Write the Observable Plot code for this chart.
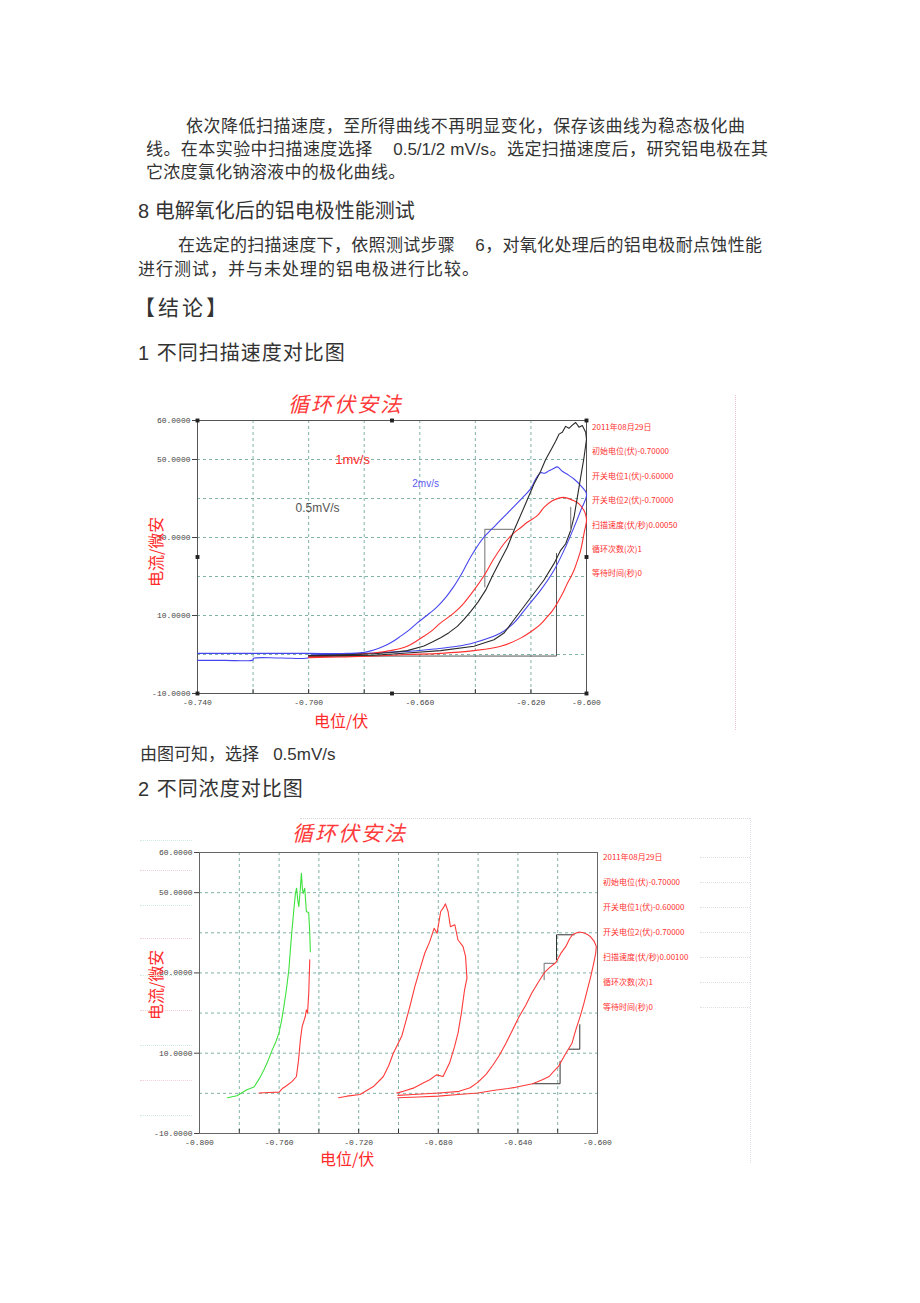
<!DOCTYPE html>
<html><head><meta charset="utf-8">
<script src="https://cdn.jsdelivr.net/npm/d3@7"></script>
<script src="https://cdn.jsdelivr.net/npm/@observablehq/plot@0.6"></script>
<style>
html,body{margin:0;padding:0;background:#fff;}
#page{position:relative;width:920px;height:1303px;overflow:hidden;font-family:"Liberation Sans","Noto Sans CJK SC",sans-serif;color:#333;}
.t{position:absolute;white-space:nowrap;line-height:1;font-size:17px;}
.j{text-align:justify;text-align-last:justify;}
.h{font-size:20px;}
.info{position:absolute;font-size:8px;color:#ff3030;font-family:"Noto Sans CJK SC",sans-serif;white-space:nowrap;line-height:1;}
.title{position:absolute;font-size:21px;letter-spacing:2px;color:#ff3a3a;font-style:italic;font-family:"Noto Sans CJK SC",sans-serif;white-space:nowrap;line-height:1;}
.lab{position:absolute;font-size:16px;color:#ff2b2b;font-family:"Noto Sans CJK SC",sans-serif;white-space:nowrap;line-height:1;}
.chart{position:absolute;}
.dot{position:absolute;}
</style></head>
<body><div id="page"></div>
<script>
// ---------- text of the page ----------
const paraLines = [
  "依次降低扫描速度，至所得曲线不再明显变化，保存该曲线为稳态极化曲",
  "线。在本实验中扫描速度选择 \u00a0\u00a0 0.5/1/2 mV/s。选定扫描速度后，研究铝电极在其",
  "它浓度氯化钠溶液中的极化曲线。"
];
const heading8 = "8 电解氧化后的铝电极性能测试";
const para2Lines = [
  "在选定的扫描速度下，依照测试步骤 \u00a0\u00a0 6，对氧化处理后的铝电极耐点蚀性能",
  "进行测试，并与未处理的铝电极进行比较。"
];
const conclusion = "【结论】";
const sec1 = "1 不同扫描速度对比图";
const note1 = "由图可知，选择 \u00a0 0.5mV/s";
const sec2 = "2 不同浓度对比图";
const chartTitle = "循环伏安法";
const yLabel = "电流/微安";
const xLabel = "电位/伏";
const info1 = ["2011年08月29日","初始电位(伏)-0.70000","开关电位1(伏)-0.60000","开关电位2(伏)-0.70000","扫描速度(伏/秒)0.00050","循环次数(次)1","等待时间(秒)0"];
const info2 = ["2011年08月29日","初始电位(伏)-0.70000","开关电位1(伏)-0.60000","开关电位2(伏)-0.70000","扫描速度(伏/秒)0.00100","循环次数(次)1","等待时间(秒)0"];

// ---------- axes ----------
const yTicks = [60, 50, 30, 10, -10];
const yGrid = [50, 40, 30, 20, 10, 0];
const xTicks1 = [-0.74, -0.70, -0.66, -0.62, -0.60];
const xGrid1 = [-0.72, -0.70, -0.68, -0.66, -0.64, -0.62];
const xTicks2 = [-0.80, -0.76, -0.72, -0.68, -0.64, -0.60];
const xGrid2 = [-0.78, -0.76, -0.74, -0.72, -0.70, -0.68, -0.66, -0.64, -0.62];

// ---------- chart 1 : scan rates (potential V, current uA) ----------
const scanLabels = ["0.5mV/s", "1mv/s", "2mv/s"];
const scanLabelAt = [[-0.6968, 37.4], [-0.6842, 49.9], [-0.6579, 43.8]];
const curve05 = [
  [-0.700,-0.4],[-0.6885,-0.3],[-0.6765,-0.2],[-0.6645,0.4],[-0.6525,1.0],[-0.6405,2.1],[-0.6333,3.8],
  [-0.6297,5.5],[-0.6261,8.9],[-0.6225,12.3],[-0.6189,15.7],[-0.6153,19.1],[-0.6117,23.3],[-0.6093,26.7],
  [-0.6075,28.4],[-0.6057,31.8],[-0.6045,35.2],[-0.6033,40.3],[-0.6021,45.4],[-0.6009,50.5],[-0.6000,55.2],
  [-0.6003,57.0],[-0.6015,58.7],[-0.6027,58.3],[-0.6039,59.5],[-0.6051,58.8],[-0.6063,58.0],[-0.6075,58.5],
  [-0.6087,57.0],[-0.6099,56.5],[-0.6111,54.7],[-0.6129,52.3],[-0.6147,50.0],[-0.6165,47.0],[-0.6189,43.7],
  [-0.6225,37.7],[-0.6261,31.8],[-0.6285,27.5],[-0.6309,24.2],[-0.6336,20.5],[-0.6363,16.5],[-0.6390,13.5],
  [-0.6417,11.0],[-0.6441,9.0],[-0.6465,7.2],[-0.6495,5.6],[-0.6525,4.3],[-0.6555,3.2],[-0.6585,2.2],
  [-0.6645,1.0],[-0.6705,0.5],[-0.6765,0.2],[-0.6885,-0.1],[-0.700,-0.3]
];
const curve1 = [
  [-0.700,-0.8],[-0.6885,-0.6],[-0.6765,-0.4],[-0.6645,0.0],[-0.6525,0.3],[-0.6405,1.0],[-0.6309,2.1],
  [-0.6237,4.2],[-0.6189,6.4],[-0.6165,7.8],[-0.6141,9.7],[-0.6123,11.2],[-0.6105,13.2],[-0.6087,15.5],
  [-0.6069,18.2],[-0.6057,19.8],[-0.6045,21.6],[-0.6033,24.0],[-0.6021,26.7],[-0.6009,31.0],[-0.6000,34.4],
  [-0.6003,35.8],[-0.6009,36.9],[-0.6027,38.6],[-0.6045,39.4],[-0.6069,40.1],[-0.6084,40.3],[-0.6099,40.1],
  [-0.6123,39.4],[-0.6153,37.7],[-0.6177,35.6],[-0.6213,33.9],[-0.6237,32.5],[-0.6261,31.2],[-0.6297,28.4],
  [-0.6333,24.6],[-0.6369,20.2],[-0.6405,16.5],[-0.6441,13.2],[-0.6478,10.6],[-0.6525,8.1],[-0.6555,6.2],
  [-0.6585,4.7],[-0.6645,2.1],[-0.6705,1.0],[-0.6765,0.4],[-0.6885,-0.2],[-0.700,-0.6]
];
const curve2 = [
  [-0.740,-1.5],[-0.730,-1.5],[-0.720,-1.4],[-0.7199,-1.0],[-0.710,-0.9],[-0.700,-0.8],[-0.6999,-0.3],
  [-0.690,0.0],[-0.6765,0.4],[-0.6645,0.8],[-0.6549,1.4],[-0.6465,2.1],[-0.6405,3.0],[-0.6309,5.5],
  [-0.6261,8.1],[-0.6213,12.3],[-0.6165,16.5],[-0.6117,21.6],[-0.6081,26.7],[-0.6045,32.6],[-0.6021,36.9],
  [-0.6000,41.1],[-0.6021,43.3],[-0.6045,45.0],[-0.6069,46.2],[-0.6087,47.0],[-0.6105,48.1],[-0.6120,47.6],
  [-0.6135,47.1],[-0.6150,46.5],[-0.6165,46.6],[-0.6183,45.0],[-0.6200,42.6],[-0.6225,40.6],[-0.6249,38.8],
  [-0.6285,36.2],[-0.6325,33.3],[-0.6363,30.6],[-0.6385,28.6],[-0.6405,26.4],[-0.6425,24.0],[-0.6441,21.8],
  [-0.6460,19.4],[-0.6478,17.4],[-0.6505,14.8],[-0.6537,12.3],[-0.6575,10.0],[-0.6609,8.1],[-0.6640,6.2],
  [-0.6669,4.7],[-0.6700,3.2],[-0.6730,2.1],[-0.6789,0.7],[-0.6861,0.3],[-0.700,0.3],[-0.720,0.3],[-0.740,0.3]
];
const steps1Gray = [[-0.6366,17.4],[-0.6366,32.1],[-0.6264,32.1]];
const steps1Gray2 = [[-0.6057,31.8],[-0.6057,37.7]];
const steps1Black = [[-0.700,-0.4],[-0.6108,-0.4],[-0.6108,25.9]];
const handles1 = [[-0.74,60],[-0.67,60],[-0.60,60],[-0.74,25],[-0.60,25],[-0.74,-10],[-0.67,-10],[-0.60,-10]];

// ---------- chart 2 : concentrations ----------
const greenCurve = [
  [-0.7859,-1.1],[-0.7812,-0.6],[-0.7762,0.9],[-0.7726,1.6],[-0.7700,3.6],[-0.7676,5.9],[-0.7660,7.6],
  [-0.7634,10.9],[-0.7615,13.0],[-0.7601,15.0],[-0.7588,18.0],[-0.7576,21.6],[-0.7563,26.0],[-0.7551,30.8],
  [-0.7538,39.1],[-0.7526,45.7],[-0.7518,49.8],[-0.7512,51.1],[-0.7506,48.0],[-0.7501,46.5],[-0.7494,50.5],
  [-0.7488,54.8],[-0.7483,51.0],[-0.7479,49.8],[-0.7471,51.1],[-0.7466,47.5],[-0.7463,45.3],[-0.7451,45.0],
  [-0.7446,40.0],[-0.7443,35.3]
];
const redLoopA = [
  [-0.7701,0.1],[-0.7650,0.2],[-0.7600,0.3],[-0.7584,1.2],[-0.7568,1.7],[-0.7534,3.0],[-0.7513,4.2],
  [-0.7502,8.4],[-0.7493,13.4],[-0.7484,16.7],[-0.7468,19.2],[-0.7463,20.8],[-0.7457,20.0],[-0.7451,25.0],
  [-0.7446,33.3]
];
const redLoopB = [
  [-0.7301,-1.1],[-0.7259,-0.7],[-0.7193,-0.3],[-0.7126,1.7],[-0.7076,4.2],[-0.7050,6.8],[-0.7026,10.0],
  [-0.6984,14.2],[-0.6960,18.5],[-0.6943,21.6],[-0.6918,26.6],[-0.6893,30.8],[-0.6868,34.9],[-0.6843,37.8],
  [-0.6821,41.1],[-0.6806,39.9],[-0.6788,45.3],[-0.6775,46.2],[-0.6764,47.2],[-0.6751,45.3],[-0.6739,41.5],
  [-0.6717,42.0],[-0.6701,38.2],[-0.6676,36.6],[-0.6663,34.1],[-0.6656,28.7],[-0.6668,25.8],[-0.6684,20.0],
  [-0.6701,15.0],[-0.6718,11.7],[-0.6743,7.6],[-0.6776,4.2],[-0.6809,4.6],[-0.6843,3.4],[-0.6876,2.6],
  [-0.6926,1.3],[-0.6976,0.5],[-0.7009,0.1]
];
const redLoopC = [
  [-0.7003,-1.1],[-0.690,-0.9],[-0.680,-0.7],[-0.670,-0.3],[-0.660,0.1],[-0.6526,0.7],[-0.645,1.2],
  [-0.6412,1.5],[-0.6326,2.4],[-0.628,3.3],[-0.6243,4.2],[-0.622,5.5],[-0.6195,6.8],[-0.6159,10.0],
  [-0.6128,12.5],[-0.6109,15.8],[-0.6085,19.5],[-0.6068,22.5],[-0.6050,26.0],[-0.6034,29.1],[-0.6020,32.2],
  [-0.6009,34.9],[-0.6006,36.6],[-0.6018,38.0],[-0.6035,39.0],[-0.6051,39.6],[-0.6070,40.0],[-0.6093,40.2],
  [-0.6110,39.9],[-0.6126,39.5],[-0.6140,38.5],[-0.6159,36.6],[-0.6185,34.8],[-0.6209,32.6],[-0.6240,31.4],
  [-0.6268,30.0],[-0.6300,27.5],[-0.6330,25.0],[-0.6360,22.0],[-0.6395,19.0],[-0.6430,15.5],[-0.6460,12.5],
  [-0.6493,9.5],[-0.6526,7.0],[-0.6559,4.8],[-0.6600,2.8],[-0.6640,1.4],[-0.6695,0.5],[-0.6795,0.1],
  [-0.6928,-0.3],[-0.7003,-0.5]
];
const steps2Black = [
  [[-0.6206,33.3],[-0.6206,39.5],[-0.6118,39.5]],
  [[-0.6326,2.4],[-0.6188,2.4],[-0.6188,8.0]],
  [[-0.6143,11.0],[-0.6089,11.0],[-0.6089,17.1]]
];
const steps2Gray = [[-0.6268,28.3],[-0.6268,32.4],[-0.6218,32.4]];

// ---------- helpers ----------
const page = document.getElementById("page");
function addText(cls, txt, left, top, width, extra) {
  const d = document.createElement("div");
  d.className = cls;
  d.textContent = txt;
  d.style.left = left + "px";
  d.style.top = top + "px";
  if (width) d.style.width = width + "px";
  if (extra) Object.assign(d.style, extra);
  page.appendChild(d);
  return d;
}
function dotted(left, top, w, h, color) {
  const d = document.createElement("div");
  d.className = "dot";
  Object.assign(d.style, {left: left + "px", top: top + "px", width: w + "px", height: h + "px"});
  if (w > h) d.style.borderTop = "1px dotted " + color; else d.style.borderLeft = "1px dotted " + color;
  page.appendChild(d);
}
const X = d => d[0], Y = d => d[1];
const gridStyle = {stroke: "#6aa496", strokeDasharray: "3,3", strokeOpacity: 0.85};

// ---------- page text ----------
addText("t j", paraLines[0], 186, 118, 559);
addText("t j", paraLines[1], 146, 141, 622);
addText("t", paraLines[2], 146, 164, null, {letterSpacing: "0.3px"});
addText("t h", heading8, 138, 201);
addText("t j", para2Lines[0], 178, 237, 584);
addText("t", para2Lines[1], 138, 261, null, {letterSpacing: "1px"});
addText("t h", conclusion, 134, 297, null, {letterSpacing: "3px", fontSize: "21px"});
addText("t h", sec1, 138, 343, null, {letterSpacing: "1px"});
addText("t", note1, 140, 746);
addText("t h", sec2, 138, 779, null, {letterSpacing: "1px"});

// ---------- chart 1 ----------
const chart1 = Plot.plot({
  width: 460, height: 320,
  marginLeft: 57, marginRight: 14, marginTop: 30, marginBottom: 17,
  x: {domain: [-0.74, -0.60]},
  y: {domain: [-10, 60]},
  style: {fontFamily: "'Liberation Mono','DejaVu Sans Mono',monospace", fontSize: "8px", color: "#444", background: "transparent", overflow: "visible"},
  marks: [
    Plot.ruleX(xGrid1, gridStyle),
    Plot.ruleY(yGrid, gridStyle),
    Plot.ruleX(xGrid1, {y1: -10, y2: -9, stroke: "#333"}),
    Plot.frame({stroke: "#555"}),
    Plot.axisX({ticks: xTicks1, tickSize: 0, tickPadding: 6, tickFormat: d => d.toFixed(3), label: null}),
    Plot.axisY({ticks: yTicks, tickSize: 5, tickPadding: 2, tickFormat: d => d.toFixed(4), label: null}),
    Plot.line(steps1Black, {x: X, y: Y, stroke: "#555", strokeWidth: 1}),
    Plot.line(steps1Gray, {x: X, y: Y, stroke: "#8a8a8a", strokeWidth: 1.2}),
    Plot.line(curve2, {x: X, y: Y, stroke: "#4646ee", strokeWidth: 1.1, curve: "catmull-rom"}),
    Plot.line(curve1, {x: X, y: Y, stroke: "#ff3030", strokeWidth: 1.1, curve: "catmull-rom"}),
    Plot.line(curve05, {x: X, y: Y, stroke: "#2a2a2a", strokeWidth: 1.1}),
    Plot.line(steps1Gray2, {x: X, y: Y, stroke: "#8a8a8a", strokeWidth: 1.2}),
    Plot.dot(handles1, {x: X, y: Y, symbol: "square", fill: "#222", r: 2.2}),
    Plot.text([0], {x: scanLabelAt[0][0], y: scanLabelAt[0][1], text: () => scanLabels[0], fill: "#555", fontSize: 12, fontFamily: "Liberation Sans"}),
    Plot.text([0], {x: scanLabelAt[1][0], y: scanLabelAt[1][1], text: () => scanLabels[1], fill: "#ff2a2a", fontSize: 13, fontFamily: "Liberation Sans"}),
    Plot.text([0], {x: scanLabelAt[2][0], y: scanLabelAt[2][1], text: () => scanLabels[2], fill: "#5a5af0", fontSize: 10, fontFamily: "Liberation Sans"})
  ]
});
chart1.classList.add("chart");
chart1.style.left = "140px"; chart1.style.top = "390px";
page.appendChild(chart1);
addText("title", chartTitle, 288, 393);
addText("lab", yLabel, 120, 544, null, {transform: "rotate(-90deg)", transformOrigin: "35px 8px"});
addText("lab", xLabel, 314, 712);
info1.forEach((s, i) => addText("info", s, 592, 423 + i * 24.4));
dotted(735, 395, 1, 335, "#f0c0cc");

// ---------- chart 2 ----------
const chart2 = Plot.plot({
  width: 470, height: 340,
  marginLeft: 59, marginRight: 13, marginTop: 37, marginBottom: 22,
  x: {domain: [-0.80, -0.60]},
  y: {domain: [-10, 60]},
  style: {fontFamily: "'Liberation Mono','DejaVu Sans Mono',monospace", fontSize: "8px", color: "#444", background: "transparent", overflow: "visible"},
  marks: [
    Plot.ruleX(xGrid2, gridStyle),
    Plot.ruleY(yGrid, gridStyle),
    Plot.ruleX(xGrid2, {y1: -10, y2: -9, stroke: "#333"}),
    Plot.frame({stroke: "#666"}),
    Plot.axisX({ticks: xTicks2, tickSize: 0, tickPadding: 6, tickFormat: d => d.toFixed(3), label: null}),
    Plot.axisY({ticks: yTicks, tickSize: 5, tickPadding: 2, tickFormat: d => d.toFixed(4), label: null}),
    ...steps2Black.map(s => Plot.line(s, {x: X, y: Y, stroke: "#333", strokeWidth: 1})),
    Plot.line(steps2Gray, {x: X, y: Y, stroke: "#8a8a8a", strokeWidth: 1.2}),
    Plot.line(greenCurve, {x: X, y: Y, stroke: "#3ee23e", strokeWidth: 1.1}),
    Plot.line(redLoopA, {x: X, y: Y, stroke: "#ff3a3a", strokeWidth: 1.1}),
    Plot.line(redLoopB, {x: X, y: Y, stroke: "#ff3a3a", strokeWidth: 1.1}),
    Plot.line(redLoopC, {x: X, y: Y, stroke: "#ff3a3a", strokeWidth: 1.1})
  ]
});
chart2.classList.add("chart");
chart2.style.left = "140px"; chart2.style.top = "815px";
page.appendChild(chart2);
addText("title", chartTitle, 292, 822);
addText("lab", yLabel, 120, 977, null, {transform: "rotate(-90deg)", transformOrigin: "35px 8px"});
addText("lab", xLabel, 320, 1150);
info2.forEach((s, i) => addText("info", s, 603, 853 + i * 25));
dotted(300, 818, 450, 1, "#d8d8d8");
dotted(750, 818, 1, 345, "#dcdcec");
[0, 1, 2, 3, 4, 5, 6].forEach(i => dotted(700, 857 + i * 25, 50, 1, "#e0e0e0"));
[840, 870, 905, 938, 975, 1010, 1045, 1080, 1115].forEach((y, i) => dotted(140, y, 52, 1, i % 2 ? "#f2d0d8" : "#d0ecdc"));
</script>
</body></html>
